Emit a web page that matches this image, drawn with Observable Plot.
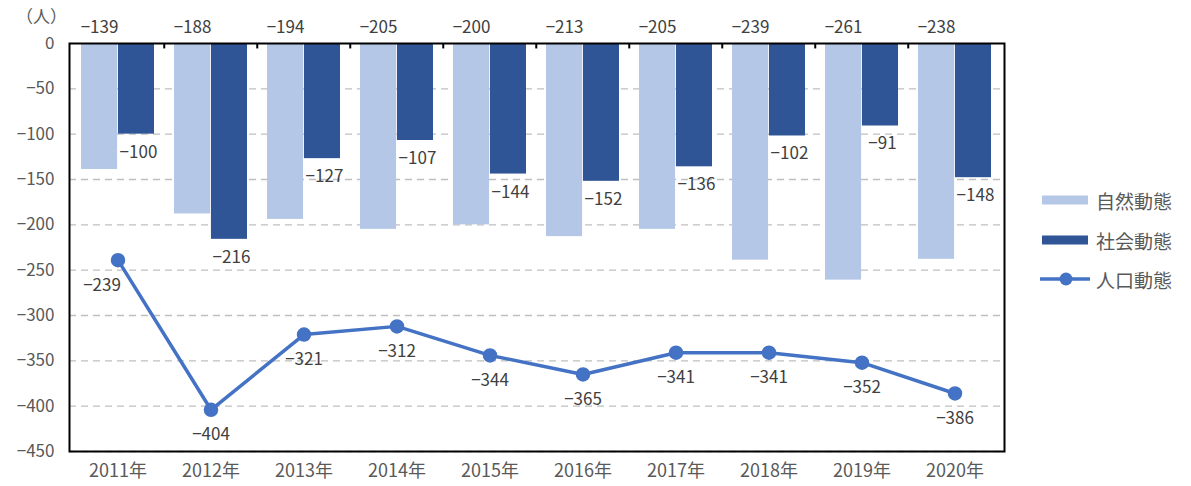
<!DOCTYPE html>
<html>
<head>
<meta charset="utf-8">
<script src="https://cdn.jsdelivr.net/npm/d3@7"></script>
<script src="https://cdn.jsdelivr.net/npm/@observablehq/plot@0.6"></script>
<style>
  body { margin: 0; background: #fff; }
  #wrap { position: relative; width: 1191px; height: 486px; font-family: "Noto Sans CJK JP", "Noto Sans", sans-serif; }
  #unit { position: absolute; left: 16px; top: 3px; font-size: 17px; color: #595959; }
  .leg { position: absolute; left: 1040px; display: flex; align-items: center; font-size: 19px; color: #595959; height: 24px; }
  .leg .sw { width: 50px; display: flex; align-items: center; justify-content: center; margin-right: 6px; }
</style>
</head>
<body>
<div id="wrap">
  <div id="unit">（人）</div>
  <div id="chart"></div>
  <div id="legend"></div>
</div>
<script>
const years = [2011, 2012, 2013, 2014, 2015, 2016, 2017, 2018, 2019, 2020];
const natural = [-139, -188, -194, -205, -200, -213, -205, -239, -261, -238];
const social = [-100, -216, -127, -107, -144, -152, -136, -102, -91, -148];
const total = [-239, -404, -321, -312, -344, -365, -341, -341, -352, -386];
const yTicks = [0, -50, -100, -150, -200, -250, -300, -350, -400, -450];
const seriesNames = ["自然動態", "社会動態", "人口動態"];
const colors = ["#B4C7E7", "#2F5597", "#4472C4"];

const data = years.map((y, i) => ({year: y, natural: natural[i], social: social[i], total: total[i]}));

const W = 1191, H = 486, ML = 69, MR = 187, MT = 43, MB = 35;
const pInner = 0.21, pOuter = pInner / 2;
const step = (W - ML - MR) / years.length;
const bw = step * (1 - pInner);
const half = bw / 2;
const fmt = v => (v < 0 ? "\u2212" + Math.abs(v) : String(v));
const font = "'Noto Sans CJK JP', 'Noto Sans', sans-serif";

const chart = Plot.plot({
  width: W, height: H,
  marginLeft: ML, marginRight: MR, marginTop: MT, marginBottom: MB,
  style: {fontFamily: font, background: "transparent"},
  x: {domain: years, type: "band", paddingInner: pInner, paddingOuter: pOuter, label: null},
  y: {domain: [-450, 0], label: null},
  marks: [
    Plot.gridY(yTicks.filter(d => d !== 0), {stroke: "#BFBFBF", strokeOpacity: 1, strokeWidth: 1.3, strokeDasharray: "7,5"}),
    Plot.axisY({ticks: yTicks, tickSize: 0, tickPadding: 15, tickFormat: fmt, fontSize: 17, color: "#595959", label: null}),
    Plot.axisX({anchor: "bottom", tickSize: 0, tickPadding: 13, tickFormat: d => d + "年", fontSize: 18, color: "#595959", label: null}),
    Plot.barY(data, {x: "year", y1: 0, y2: "natural", fill: colors[0], insetRight: half}),
    Plot.barY(data, {x: "year", y1: 0, y2: "social", fill: colors[1], insetLeft: half}),
    Plot.ruleX(years.slice(1), {x: d => d, y1: 0, y2: -6, stroke: "#000", strokeWidth: 2, dx: -step / 2}),
    Plot.text(data, {x: "year", y: () => 0, text: d => fmt(d.natural), dx: -half / 2, dy: -16, fontSize: 17, fill: "#404040"}),
    Plot.text(data, {x: "year", y: "social", text: d => fmt(d.social), dx: half / 2 + 2, dy: 18, fontSize: 17, fill: "#404040"}),
    Plot.line(data, {x: "year", y: "total", stroke: colors[2], strokeWidth: 3.5}),
    Plot.dot(data, {x: "year", y: "total", r: 6.5, fill: colors[2], stroke: colors[2]}),
    Plot.text(data.slice(0, 1), {x: "year", y: "total", text: d => fmt(d.total), dx: -16, dy: 25, fontSize: 17, fill: "#404040"}),
    Plot.text(data.slice(1), {x: "year", y: "total", text: d => fmt(d.total), dy: 25, fontSize: 17, fill: "#404040"}),
    Plot.frame({stroke: "#000", strokeWidth: 2})
  ]
});
document.getElementById("chart").appendChild(chart);

// legend
const leg = document.getElementById("legend");
const rowsY = [188, 228, 267];
seriesNames.forEach((name, i) => {
  const row = document.createElement("div");
  row.className = "leg";
  row.style.top = rowsY[i] + "px";
  let sw;
  if (i < 2) {
    sw = `<svg width="50" height="24"><rect x="2" y="7.5" width="46" height="9" fill="${colors[i]}"/></svg>`;
  } else {
    sw = `<svg width="50" height="24"><line x1="0" x2="50" y1="12" y2="12" stroke="${colors[i]}" stroke-width="3.5"/><circle cx="26" cy="12" r="6.5" fill="${colors[i]}"/></svg>`;
  }
  row.innerHTML = `<span class="sw">${sw}</span><span>${name}</span>`;
  leg.appendChild(row);
});
</script>
</body>
</html>
